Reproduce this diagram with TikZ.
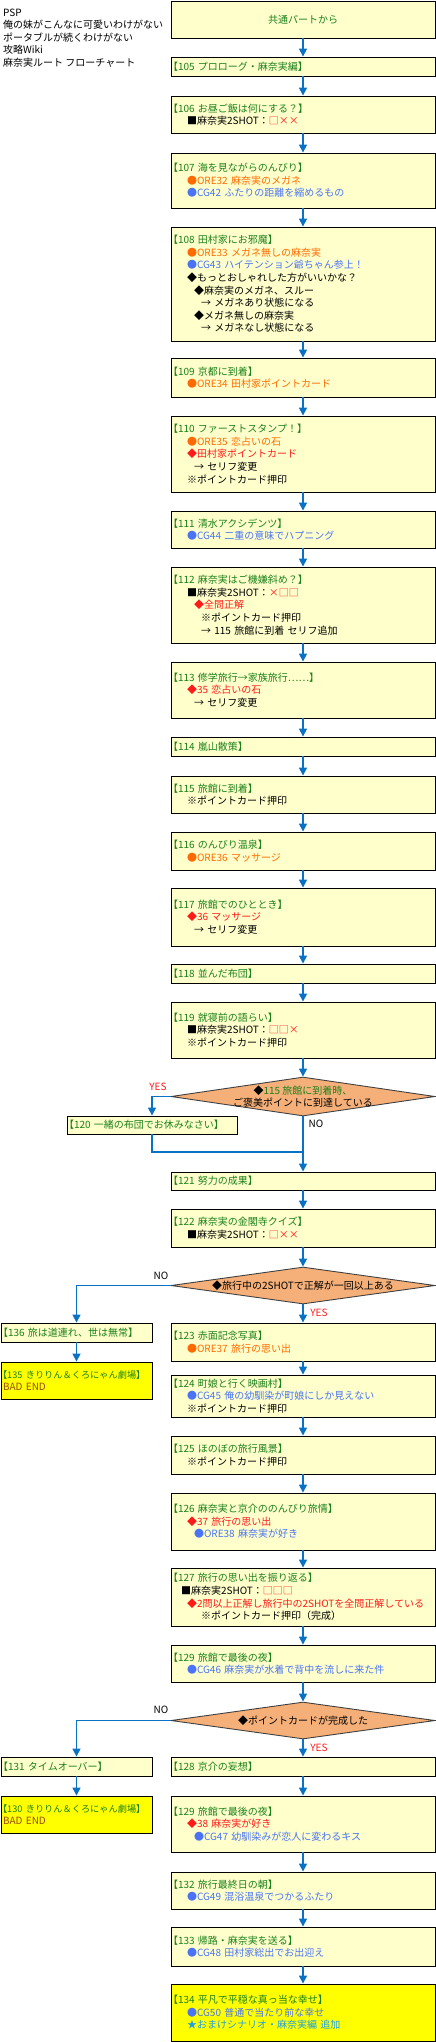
\documentclass[tikz,border=0pt]{standalone}
\usepackage{fontspec}
\setmainfont{Noto Sans CJK JP}
\usetikzlibrary{arrows.meta,shapes.geometric}
\definecolor{tgreen}{HTML}{1A801A}
\definecolor{ore}{HTML}{FF6A00}
\definecolor{cgb}{HTML}{4A74F5}
\definecolor{rd}{HTML}{FF1A1A}
\definecolor{star}{HTML}{1E9FE8}
\definecolor{bad}{HTML}{994D00}
\definecolor{boxfill}{HTML}{FFFFCC}
\definecolor{yelfill}{HTML}{FFFF00}
\definecolor{diafill}{HTML}{F5B07A}
\definecolor{arrblue}{HTML}{0A72C4}
\newcommand{\ttl}[1]{\hspace*{-5pt}\textcolor{tgreen}{#1}}
\newcommand{\nttl}[1]{\hspace*{-5pt}\mbox{\fontsize{9.2}{12.6}\selectfont\textcolor{tgreen}{#1}}}
\newcommand{\myind}[1]{\hspace*{#1pt}}
\begin{document}
\begin{tikzpicture}[x=1pt,y=-1pt,
  basefont/.style={font=\fontsize{10}{12.6}\selectfont},
  mainbox/.style={basefont, rectangle, draw=black, line width=0.9pt, fill=boxfill,
    inner xsep=2pt, inner ysep=0pt, text width=260pt, align=left},
  leftbox/.style={mainbox, text width=147pt},
  midbox/.style={mainbox, text width=166pt},
  dia/.style={diamond, draw=black!75, line width=0.9pt, fill=diafill, inner sep=0pt,
    minimum width=264pt},
  dtext/.style={basefont, align=center, inner sep=0pt},
  hdr/.style={basefont, anchor=base west, inner sep=0pt},
  lbl/.style={basefont, inner sep=0pt},
  arr/.style={draw=arrblue, line width=1.5pt, -{Triangle[width=8pt,length=8pt]}},
  ln/.style={draw=arrblue, line width=1.5pt}]
\useasboundingbox (0,0) rectangle (436,2042);

% header
\node[hdr] (h1) at (3,16.5) {PSP};
\node[hdr] (h2) at (3,29) {俺の妹がこんなに可愛いわけがない};
\node[hdr] (h3) at (3,41.5) {ポータブルが続くわけがない};
\node[hdr] (h4) at (3,54) {攻略Wiki};
\node[hdr] (h5) at (3,66.5) {麻奈実ルート フローチャート};

% main column
\node[mainbox, minimum height=37pt, align=center] (top) at (303,19.5) {\textcolor{tgreen}{共通パートから}};
\node[mainbox, minimum height=19pt] (b105) at (303,66.5) {\ttl{【105 プロローグ・麻奈実編】}};
\node[mainbox, minimum height=37pt] (b106) at (303,114.5) {\ttl{【106 お昼ご飯は何にする？】}\\
  \myind{14}■麻奈実2SHOT：\textcolor{rd}{□××}};
\node[mainbox, minimum height=55pt] (b107) at (303,180.5) {\ttl{【107 海を見ながらのんびり】}\\
  \myind{14}\textcolor{ore}{●ORE32 麻奈実のメガネ}\\
  \myind{14}\textcolor{cgb}{●CG42 ふたりの距離を縮めるもの}};
\node[mainbox, minimum height=114pt] (b108) at (303,284) {\ttl{【108 田村家にお邪魔】}\\
  \myind{14}\textcolor{ore}{●ORE33 メガネ無しの麻奈実}\\
  \myind{14}\textcolor{cgb}{●CG43 ハイテンション爺ちゃん参上！}\\
  \myind{14}◆もっとおしゃれした方がいいかな？\\
  \myind{21}◆麻奈実のメガネ、スルー\\
  \myind{28}→ メガネあり状態になる\\
  \myind{21}◆メガネ無しの麻奈実\\
  \myind{28}→ メガネなし状態になる};
\node[mainbox, minimum height=39pt] (b109) at (303,377.5) {\ttl{【109 京都に到着】}\\
  \myind{14}\textcolor{ore}{●ORE34 田村家ポイントカード}};
\node[mainbox, minimum height=76pt] (b110) at (303,454) {\ttl{【110 ファーストスタンプ！】}\\
  \myind{14}\textcolor{ore}{●ORE35 恋占いの石}\\
  \myind{14}\textcolor{rd}{◆田村家ポイントカード}\\
  \myind{21}→ セリフ変更\\
  \myind{14}※ポイントカード押印};
\node[mainbox, minimum height=37pt] (b111) at (303,529.5) {\ttl{【111 清水アクシデンツ】}\\
  \myind{14}\textcolor{cgb}{●CG44 二重の意味でハプニング}};
\node[mainbox, minimum height=76pt] (b112) at (303,605) {\ttl{【112 麻奈実はご機嫌斜め？】}\\
  \myind{14}■麻奈実2SHOT：\textcolor{rd}{×□□}\\
  \myind{21}\textcolor{rd}{◆全問正解}\\
  \myind{28}※ポイントカード押印\\
  \myind{28}→ 115 旅館に到着 セリフ追加};
\node[mainbox, minimum height=56pt] (b113) at (303,690) {\ttl{【113 修学旅行→家族旅行……】}\\
  \myind{14}\textcolor{rd}{◆35 恋占いの石}\\
  \myind{21}→ セリフ変更};
\node[mainbox, minimum height=19pt] (b114) at (303,746.5) {\ttl{【114 嵐山散策】}};
\node[mainbox, minimum height=37pt] (b115) at (303,794.5) {\ttl{【115 旅館に到着】}\\
  \myind{14}※ポイントカード押印};
\node[mainbox, minimum height=38pt] (b116) at (303,851) {\ttl{【116 のんびり温泉】}\\
  \myind{14}\textcolor{ore}{●ORE36 マッサージ}};
\node[mainbox, minimum height=58pt] (b117) at (303,917) {\ttl{【117 旅館でのひととき】}\\
  \myind{14}\textcolor{rd}{◆36 マッサージ}\\
  \myind{21}→ セリフ変更};
\node[mainbox, minimum height=19pt] (b118) at (303,973.5) {\ttl{【118 並んだ布団】}};
\node[mainbox, minimum height=56pt] (b119) at (303,1030) {\ttl{【119 就寝前の語らい】}\\
  \myind{14}■麻奈実2SHOT：\textcolor{rd}{□□×}\\
  \myind{14}※ポイントカード押印};

% decision 1
\node[dia, minimum height=39pt] (d1) at (303,1096.5) {};
\node[dtext] (d1t) at (303,1096.5) {◆\textcolor{tgreen}{115 旅館に到着時、}\\ご褒美ポイントに到達している};
\node[midbox, minimum height=18pt] (b120) at (152,1125) {\ttl{【120 一緒の布団でお休みなさい】}};
\coordinate (j1) at (303,1152);
\node[mainbox, minimum height=18pt] (b121) at (303,1181) {\ttl{【121 努力の成果】}};
\node[mainbox, minimum height=38pt] (b122) at (303,1228) {\ttl{【122 麻奈実の金閣寺クイズ】}\\
  \myind{14}■麻奈実2SHOT：\textcolor{rd}{□××}};

% decision 2
\node[dia, minimum height=37pt] (d2) at (303,1285.5) {};
\node[dtext] (d2t) at (303,1285.5) {◆旅行中の2SHOTで正解が一回以上ある};
\node[leftbox, minimum height=19pt] (b136) at (76.5,1332.5) {\ttl{【136 旅は道連れ、世は無常】}};
\node[leftbox, minimum height=37pt, fill=yelfill] (b135) at (76.5,1380.5) {\nttl{【135 きりりん＆くろにゃん劇場】}\\
  \textcolor{bad}{BAD END}};
\node[mainbox, minimum height=38pt] (b123) at (303,1342) {\ttl{【123 赤面記念写真】}\\
  \myind{14}\textcolor{ore}{●ORE37 旅行の思い出}};
\node[mainbox, minimum height=42pt] (b124) at (303,1396) {\ttl{【124 町娘と行く映画村】}\\
  \myind{14}\textcolor{cgb}{●CG45 俺の幼馴染が町娘にしか見えない}\\
  \myind{14}※ポイントカード押印};
\node[mainbox, minimum height=38pt] (b125) at (303,1455) {\ttl{【125 ほのぼの旅行風景】}\\
  \myind{14}※ポイントカード押印};
\node[mainbox, minimum height=57pt] (b126) at (303,1521.5) {\ttl{【126 麻奈実と京介ののんびり旅情】}\\
  \myind{14}\textcolor{rd}{◆37 旅行の思い出}\\
  \myind{21}\textcolor{cgb}{●ORE38 麻奈実が好き}};
\node[mainbox, minimum height=58pt] (b127) at (303,1597) {\ttl{【127 旅行の思い出を振り返る】}\\
  \myind{8}■麻奈実2SHOT：\textcolor{rd}{□□□}\\
  \myind{14}\textcolor{rd}{◆2問以上正解し旅行中の2SHOTを全問正解している}\\
  \myind{28}※ポイントカード押印（完成）};
\node[mainbox, minimum height=37pt] (b129a) at (303,1663.5) {\ttl{【129 旅館で最後の夜】}\\
  \myind{14}\textcolor{cgb}{●CG46 麻奈実が水着で背中を流しに来た件}};

% decision 3
\node[dia, minimum height=37pt] (d3) at (303,1720.5) {};
\node[dtext] (d3t) at (303,1720.5) {◆ポイントカードが完成した};
\node[leftbox, minimum height=19pt] (b131) at (76.5,1766.5) {\ttl{【131 タイムオーバー】}};
\node[leftbox, minimum height=37pt, fill=yelfill] (b130) at (76.5,1814.5) {\nttl{【130 きりりん＆くろにゃん劇場】}\\
  \textcolor{bad}{BAD END}};
\node[mainbox, minimum height=19pt] (b128) at (303,1766.5) {\ttl{【128 京介の妄想】}};
\node[mainbox, minimum height=56pt] (b129b) at (303,1824) {\ttl{【129 旅館で最後の夜】}\\
  \myind{14}\textcolor{rd}{◆38 麻奈実が好き}\\
  \myind{21}\textcolor{cgb}{●CG47 幼馴染みが恋人に変わるキス}};
\node[mainbox, minimum height=37pt] (b132) at (303,1890.5) {\ttl{【132 旅行最終日の朝】}\\
  \myind{14}\textcolor{cgb}{●CG49 混浴温泉でつかるふたり}};
\node[mainbox, minimum height=39pt] (b133) at (303,1946.5) {\ttl{【133 帰路・麻奈実を送る】}\\
  \myind{14}\textcolor{cgb}{●CG48 田村家総出でお出迎え}};
\node[mainbox, minimum height=57pt, fill=yelfill] (b134) at (303,2012.5) {\ttl{【134 平凡で平穏な真っ当な幸せ】}\\
  \myind{14}\textcolor{cgb}{●CG50 普通で当たり前な幸せ}\\
  \myind{14}\textcolor{star}{★おまけシナリオ・麻奈実編 追加}};

% labels
\node[lbl, text=rd] (y1) at (158,1087) {YES};
\node[lbl] (n1) at (316,1124) {NO};
\node[lbl] (n2) at (161,1276) {NO};
\node[lbl, text=rd] (y2) at (319,1313) {YES};
\node[lbl] (n3) at (161,1710) {NO};
\node[lbl, text=rd] (y3) at (319,1748) {YES};

% connectors
\draw[arr] (top.south) -- (b105.north);
\draw[arr] (b105.south) -- (b106.north);
\draw[arr] (b106.south) -- (b107.north);
\draw[arr] (b107.south) -- (b108.north);
\draw[arr] (b108.south) -- (b109.north);
\draw[arr] (b109.south) -- (b110.north);
\draw[arr] (b110.south) -- (b111.north);
\draw[arr] (b111.south) -- (b112.north);
\draw[arr] (b112.south) -- (b113.north);
\draw[arr] (b113.south) -- (b114.north);
\draw[arr] (b114.south) -- (b115.north);
\draw[arr] (b115.south) -- (b116.north);
\draw[arr] (b116.south) -- (b117.north);
\draw[arr] (b117.south) -- (b118.north);
\draw[arr] (b118.south) -- (b119.north);
\draw[arr] (b119.south) -- (d1.north);
\draw[arr] (d1.west) -| (b120.north);
\draw[ln] (b120.south) |- (j1);
\draw[arr] (d1.south) -- (b121.north);
\draw[arr] (b121.south) -- (b122.north);
\draw[arr] (b122.south) -- (d2.north);
\draw[arr] (d2.west) -| (b136.north);
\draw[arr] (b136.south) -- (b135.north);
\draw[arr] (d2.south) -- (b123.north);
\draw[arr] (b123.south) -- (b124.north);
\draw[arr] (b124.south) -- (b125.north);
\draw[arr] (b125.south) -- (b126.north);
\draw[arr] (b126.south) -- (b127.north);
\draw[arr] (b127.south) -- (b129a.north);
\draw[arr] (b129a.south) -- (d3.north);
\draw[arr] (d3.west) -| (b131.north);
\draw[arr] (b131.south) -- (b130.north);
\draw[arr] (d3.south) -- (b128.north);
\draw[arr] (b128.south) -- (b129b.north);
\draw[arr] (b129b.south) -- (b132.north);
\draw[arr] (b132.south) -- (b133.north);
\draw[arr] (b133.south) -- (b134.north);
\end{tikzpicture}
\end{document}
